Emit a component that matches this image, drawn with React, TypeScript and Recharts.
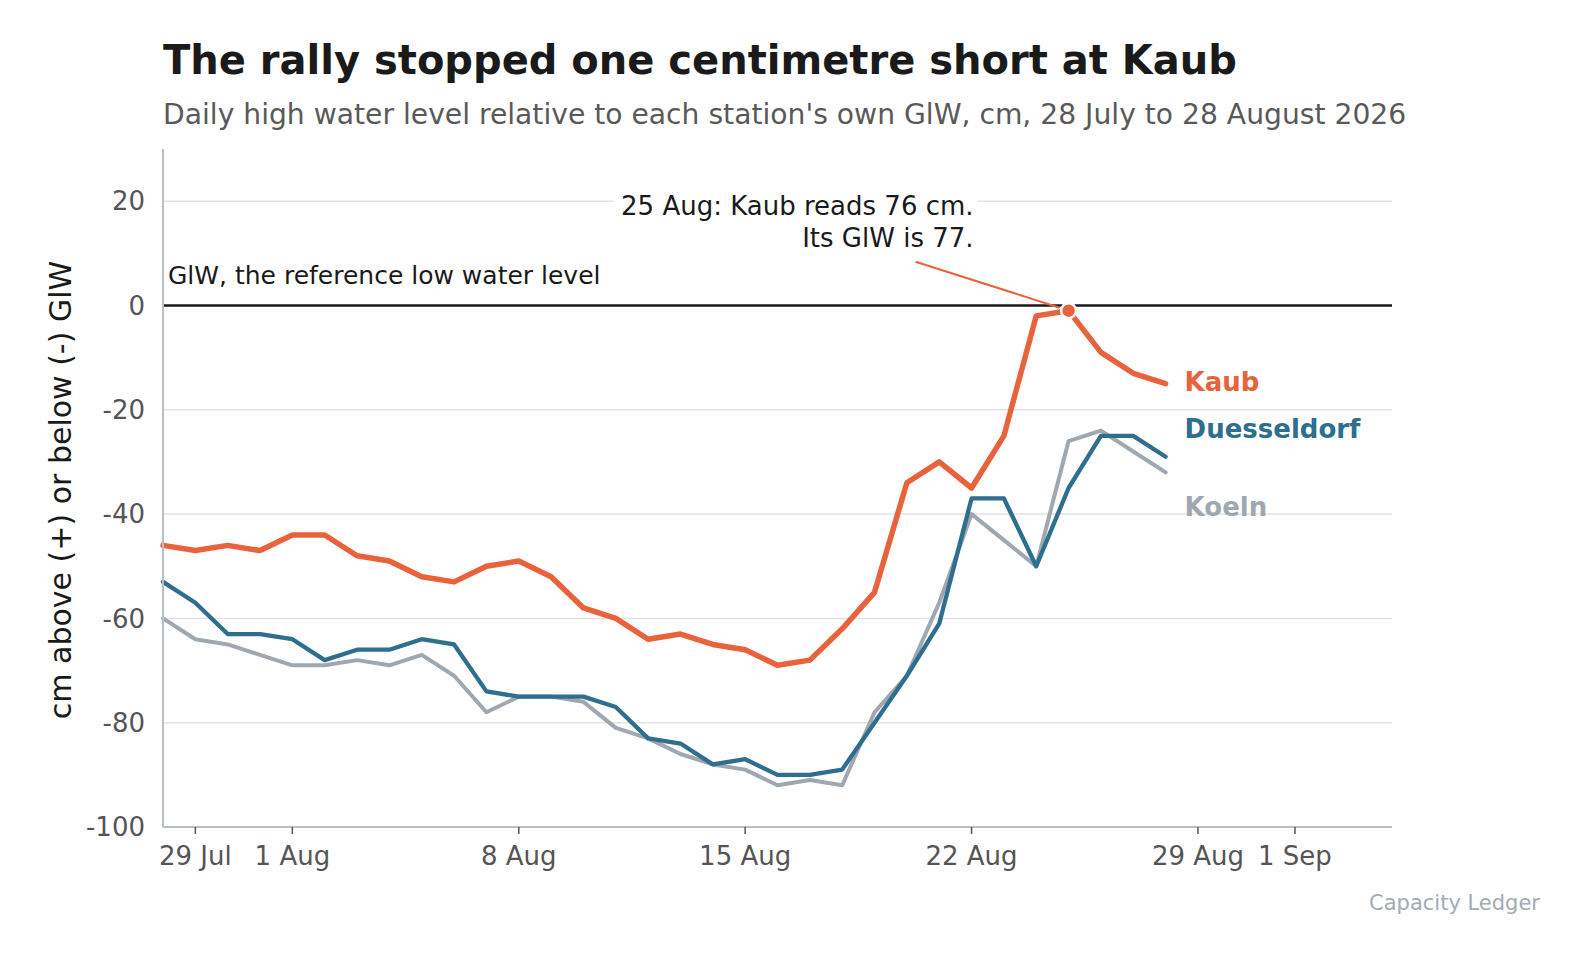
import React from 'react';
import {
    CartesianGrid,
    Label,
    LabelList,
    Line,
    LineChart,
    ReferenceDot,
    ReferenceLine,
    XAxis,
    YAxis
} from 'recharts';

// one entry per day, 28 Jul .. 28 Aug
const dates = [
    '28 Jul', '29 Jul', '30 Jul', '31 Jul', '1 Aug', '2 Aug', '3 Aug', '4 Aug',
    '5 Aug', '6 Aug', '7 Aug', '8 Aug', '9 Aug', '10 Aug', '11 Aug', '12 Aug',
    '13 Aug', '14 Aug', '15 Aug', '16 Aug', '17 Aug', '18 Aug', '19 Aug', '20 Aug',
    '21 Aug', '22 Aug', '23 Aug', '24 Aug', '25 Aug', '26 Aug', '27 Aug', '28 Aug'
];

// cm relative to each station's GlW
const kaub = [
    -46, -47, -46, -47, -44, -44, -48, -49, -52, -53, -50, -49, -52, -58, -60, -64,
    -63, -65, -66, -69, -68, -62, -55, -34, -30, -35, -25, -2, -1, -9, -13, -15
];
const duesseldorf = [
    -53, -57, -63, -63, -64, -68, -66, -66, -64, -65, -74, -75, -75, -75, -77, -83,
    -84, -88, -87, -90, -90, -89, -80, -71, -61, -37, -37, -50, -35, -25, -25, -29
];
const koeln = [
    -60, -64, -65, -67, -69, -69, -68, -69, -67, -71, -78, -75, -75, -76, -81, -83,
    -86, -88, -89, -92, -91, -92, -78, -71, -57, -40, -45, -50, -26, -24, -28, -32
];

// x ticks as day offsets from 28 Jul
const xTicks = [1, 4, 11, 18, 25, 32, 35];
const xTickLabels = ['29 Jul', '1 Aug', '8 Aug', '15 Aug', '22 Aug', '29 Aug', '1 Sep'];
const yTicks = [-100, -80, -60, -40, -20, 0, 20];
const gridValues = [-80, -60, -40, -20, 20];

const peakIndex = 28; // 25 Aug
const annotationLines = ['25 Aug: Kaub reads 76 cm.', 'Its GlW is 77.'];

const FONT = '"DejaVu Sans", Verdana, sans-serif';
const KAUB = '#e8623c';
const DUESS = '#2e6e8e';
const KOELN = '#9fa8b0';
const AXIS = '#b8bfc7';

const chartData = dates.map((d, i) => ({
    day: i,
    date: d,
    kaub: kaub[i],
    duesseldorf: duesseldorf[i],
    koeln: koeln[i]
}));

const lastIdx = dates.length - 1;

// end-of-line series name, nudged vertically so they don't collide
const endLabel = (name: string, color: string, dy: number) => (props: any) => {
    if (props.index !== lastIdx) return null;
    return (
        <text
            x={props.x + 19}
            y={props.y + dy}
            fill={color}
            fontSize={26}
            fontWeight="bold"
            fontFamily={FONT}
            dominantBaseline="central"
        >
            {name}
        </text>
    );
};

const PeakMarker = (props: any) => {
    const { cx, cy } = props;
    return (
        <g>
            <rect x={cx - 455} y={cy - 122} width={364} height={66} fill="#fff" />
            <text x={cx - 95} y={cy - 96} textAnchor="end" fontSize={26} fontFamily={FONT} fill="#1a1a1a">
                {annotationLines[0]}
            </text>
            <text x={cx - 95} y={cy - 64} textAnchor="end" fontSize={26} fontFamily={FONT} fill="#1a1a1a">
                {annotationLines[1]}
            </text>
            <line x1={cx - 153} y1={cy - 49} x2={cx - 9} y2={cy - 3} stroke={KAUB} strokeWidth={2} />
            <circle cx={cx} cy={cy} r={7.5} fill={KAUB} stroke="#fff" strokeWidth={2.5} />
        </g>
    );
};

export default function App() {
    return (
        <div style={{ position: 'absolute', left: 0, top: 0, width: 1585, height: 960, background: '#fff' }}>
            <LineChart
                width={1585}
                height={960}
                data={chartData}
                margin={{ top: 149, right: 193, left: 83, bottom: 73 }}
            >
                <CartesianGrid vertical={false} horizontalValues={gridValues} stroke="#e3e3e3" strokeWidth={1.5} />

                <XAxis
                    dataKey="day"
                    type="number"
                    domain={[0, 38]}
                    ticks={xTicks}
                    tickFormatter={(v) => xTickLabels[xTicks.indexOf(v)]}
                    height={60}
                    stroke={AXIS}
                    strokeWidth={2}
                    tickSize={7}
                    tickMargin={13}
                    tickLine={{ stroke: '#555', strokeWidth: 1.5 }}
                    tick={{ fill: '#555', fontSize: 26, fontFamily: FONT }}
                />
                <YAxis
                    type="number"
                    domain={[-100, 30]}
                    ticks={yTicks}
                    width={80}
                    stroke={AXIS}
                    strokeWidth={2}
                    tickLine={false}
                    tickSize={6}
                    tickMargin={12}
                    tick={{ fill: '#555', fontSize: 26, fontFamily: FONT }}
                >
                    <Label
                        content={(p: any) => {
                            const vb = p.viewBox;
                            const x = vb.x - 23;
                            const y = vb.y + vb.height / 2 + 2;
                            return (
                                <text
                                    x={x}
                                    y={y}
                                    transform={`rotate(-90 ${x} ${y})`}
                                    textAnchor="middle"
                                    dominantBaseline="central"
                                    fontSize={30}
                                    fontFamily={FONT}
                                    fill="#1a1a1a"
                                >
                                    cm above (+) or below (-) GlW
                                </text>
                            );
                        }}
                    />
                </YAxis>

                <ReferenceLine y={0} stroke="#1a1a1a" strokeWidth={2.5}>
                    <Label
                        content={(p: any) => (
                            <text x={p.viewBox.x + 5} y={p.viewBox.y - 21} fontSize={25} fontFamily={FONT} fill="#1a1a1a">
                                GlW, the reference low water level
                            </text>
                        )}
                    />
                </ReferenceLine>

                <Line
                    dataKey="koeln"
                    stroke={KOELN}
                    strokeWidth={4}
                    dot={false}
                    strokeLinejoin="round"
                    strokeLinecap="round"
                    isAnimationActive={false}
                >
                    <LabelList dataKey="koeln" content={endLabel('Koeln', KOELN, 35)} />
                </Line>
                <Line
                    dataKey="duesseldorf"
                    stroke={DUESS}
                    strokeWidth={4.3}
                    dot={false}
                    strokeLinejoin="round"
                    strokeLinecap="round"
                    isAnimationActive={false}
                >
                    <LabelList dataKey="duesseldorf" content={endLabel('Duesseldorf', DUESS, -28)} />
                </Line>
                <Line
                    dataKey="kaub"
                    stroke={KAUB}
                    strokeWidth={5.5}
                    dot={false}
                    strokeLinejoin="round"
                    strokeLinecap="round"
                    isAnimationActive={false}
                >
                    <LabelList dataKey="kaub" content={endLabel('Kaub', KAUB, -2)} />
                </Line>

                <ReferenceDot x={peakIndex} y={kaub[peakIndex]} r={7.5} shape={PeakMarker} />
            </LineChart>

            <svg width={1585} height={960} style={{ position: 'absolute', left: 0, top: 0, pointerEvents: 'none' }}>
                <text x={163} y={74} fontSize={40} fontWeight="bold" fontFamily={FONT} fill="#1a1a1a">
                    The rally stopped one centimetre short at Kaub
                </text>
                <text x={163} y={124} fontSize={28.2} fontFamily={FONT} fill="#595959">
                    Daily high water level relative to each station's own GlW, cm, 28 July to 28 August 2026
                </text>
                <text x={1540} y={910} textAnchor="end" fontSize={21} fontFamily={FONT} fill="#a3abb3">
                    Capacity Ledger
                </text>
            </svg>
        </div>
    );
}
